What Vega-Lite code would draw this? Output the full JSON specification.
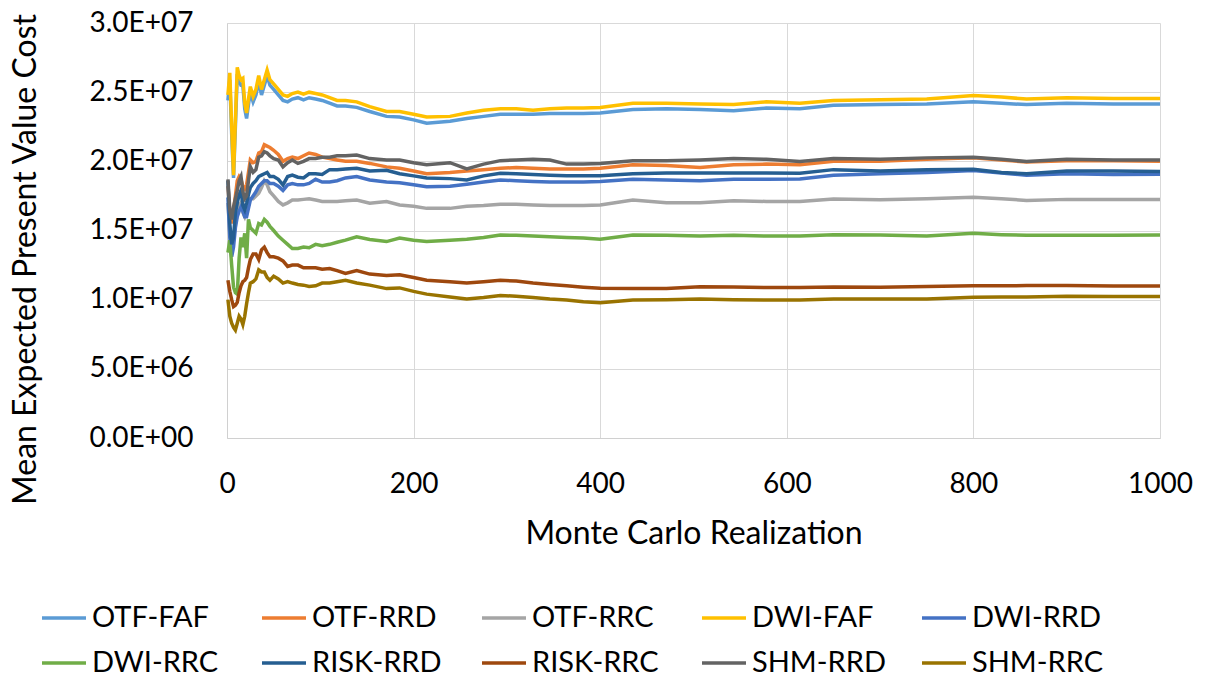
{
  "$schema": "https://vega.github.io/schema/vega-lite/v6.json",
  "width": 933,
  "height": 415,
  "autosize": "none",
  "padding": {"left": 227, "top": 23, "right": 49, "bottom": 241},
  "background": "white",
  "data": {"values": [
    {"x":1,"OTF-FAF":2.44e7,"OTF-RRD":1.82e7,"OTF-RRC":1.70e7,"DWI-FAF":2.48e7,"DWI-RRD":1.74e7,"DWI-RRC":1.34e7,"RISK-RRD":1.86e7,"RISK-RRC":1.14e7,"SHM-RRD":1.87e7,"SHM-RRC":1.00e7},
    {"x":3,"OTF-FAF":2.59e7,"OTF-RRD":1.63e7,"OTF-RRC":1.48e7,"DWI-FAF":2.64e7,"DWI-RRD":1.45e7,"DWI-RRC":1.43e7,"RISK-RRD":1.55e7,"RISK-RRC":1.06e7,"SHM-RRD":1.65e7,"SHM-RRC":8.8e6},
    {"x":5,"OTF-FAF":2.20e7,"OTF-RRD":1.55e7,"OTF-RRC":1.38e7,"DWI-FAF":2.25e7,"DWI-RRD":1.31e7,"DWI-RRC":1.25e7,"RISK-RRD":1.40e7,"RISK-RRC":1.00e7,"SHM-RRD":1.58e7,"SHM-RRC":8.3e6},
    {"x":7,"OTF-FAF":1.88e7,"OTF-RRD":1.65e7,"OTF-RRC":1.43e7,"DWI-FAF":1.90e7,"DWI-RRD":1.38e7,"DWI-RRC":1.09e7,"RISK-RRD":1.45e7,"RISK-RRC":9.5e6,"SHM-RRD":1.67e7,"SHM-RRC":8.0e6},
    {"x":9,"OTF-FAF":2.25e7,"OTF-RRD":1.75e7,"OTF-RRC":1.55e7,"DWI-FAF":2.30e7,"DWI-RRD":1.52e7,"DWI-RRC":1.05e7,"RISK-RRD":1.63e7,"RISK-RRC":9.6e6,"SHM-RRD":1.73e7,"SHM-RRC":7.8e6},
    {"x":11,"OTF-FAF":2.63e7,"OTF-RRD":1.86e7,"OTF-RRC":1.62e7,"DWI-FAF":2.68e7,"DWI-RRD":1.60e7,"DWI-RRC":1.04e7,"RISK-RRD":1.70e7,"RISK-RRC":9.8e6,"SHM-RRD":1.79e7,"SHM-RRC":8.3e6},
    {"x":13,"OTF-FAF":2.58e7,"OTF-RRD":1.89e7,"OTF-RRC":1.68e7,"DWI-FAF":2.62e7,"DWI-RRD":1.64e7,"DWI-RRC":1.30e7,"RISK-RRD":1.76e7,"RISK-RRC":1.05e7,"SHM-RRD":1.86e7,"SHM-RRC":8.8e6},
    {"x":15,"OTF-FAF":2.55e7,"OTF-RRD":1.87e7,"OTF-RRC":1.70e7,"DWI-FAF":2.59e7,"DWI-RRD":1.67e7,"DWI-RRC":1.45e7,"RISK-RRD":1.79e7,"RISK-RRC":1.10e7,"SHM-RRD":1.89e7,"SHM-RRC":8.6e6},
    {"x":17,"OTF-FAF":2.55e7,"OTF-RRD":1.82e7,"OTF-RRC":1.63e7,"DWI-FAF":2.60e7,"DWI-RRD":1.64e7,"DWI-RRC":1.38e7,"RISK-RRD":1.68e7,"RISK-RRC":1.13e7,"SHM-RRD":1.78e7,"SHM-RRC":8.2e6},
    {"x":19,"OTF-FAF":2.38e7,"OTF-RRD":1.80e7,"OTF-RRC":1.60e7,"DWI-FAF":2.42e7,"DWI-RRD":1.60e7,"DWI-RRC":1.48e7,"RISK-RRD":1.65e7,"RISK-RRC":1.14e7,"SHM-RRD":1.73e7,"SHM-RRC":8.8e6},
    {"x":21,"OTF-FAF":2.31e7,"OTF-RRD":1.83e7,"OTF-RRC":1.64e7,"DWI-FAF":2.35e7,"DWI-RRD":1.60e7,"DWI-RRC":1.30e7,"RISK-RRD":1.70e7,"RISK-RRC":1.16e7,"SHM-RRD":1.75e7,"SHM-RRC":9.7e6},
    {"x":23,"OTF-FAF":2.41e7,"OTF-RRD":1.92e7,"OTF-RRC":1.69e7,"DWI-FAF":2.45e7,"DWI-RRD":1.66e7,"DWI-RRC":1.58e7,"RISK-RRD":1.76e7,"RISK-RRC":1.23e7,"SHM-RRD":1.86e7,"SHM-RRC":1.05e7},
    {"x":25,"OTF-FAF":2.50e7,"OTF-RRD":2.01e7,"OTF-RRC":1.73e7,"DWI-FAF":2.54e7,"DWI-RRD":1.72e7,"DWI-RRC":1.52e7,"RISK-RRD":1.81e7,"RISK-RRC":1.29e7,"SHM-RRD":1.96e7,"SHM-RRC":1.12e7},
    {"x":28,"OTF-FAF":2.43e7,"OTF-RRD":1.99e7,"OTF-RRC":1.73e7,"DWI-FAF":2.47e7,"DWI-RRD":1.75e7,"DWI-RRC":1.50e7,"RISK-RRD":1.84e7,"RISK-RRC":1.33e7,"SHM-RRD":1.92e7,"SHM-RRC":1.13e7},
    {"x":31,"OTF-FAF":2.48e7,"OTF-RRD":2.00e7,"OTF-RRC":1.75e7,"DWI-FAF":2.52e7,"DWI-RRD":1.78e7,"DWI-RRC":1.48e7,"RISK-RRD":1.86e7,"RISK-RRC":1.33e7,"SHM-RRD":1.94e7,"SHM-RRC":1.15e7},
    {"x":34,"OTF-FAF":2.58e7,"OTF-RRD":2.06e7,"OTF-RRC":1.77e7,"DWI-FAF":2.62e7,"DWI-RRD":1.82e7,"DWI-RRC":1.55e7,"RISK-RRD":1.89e7,"RISK-RRC":1.29e7,"SHM-RRD":2.03e7,"SHM-RRC":1.215e7},
    {"x":37,"OTF-FAF":2.48e7,"OTF-RRD":2.07e7,"OTF-RRC":1.81e7,"DWI-FAF":2.52e7,"DWI-RRD":1.84e7,"DWI-RRC":1.54e7,"RISK-RRD":1.90e7,"RISK-RRC":1.36e7,"SHM-RRD":2.04e7,"SHM-RRC":1.20e7},
    {"x":40,"OTF-FAF":2.55e7,"OTF-RRD":2.12e7,"OTF-RRC":1.86e7,"DWI-FAF":2.59e7,"DWI-RRD":1.86e7,"DWI-RRC":1.58e7,"RISK-RRD":1.91e7,"RISK-RRC":1.38e7,"SHM-RRD":2.07e7,"SHM-RRC":1.20e7},
    {"x":43,"OTF-FAF":2.62e7,"OTF-RRD":2.11e7,"OTF-RRC":1.83e7,"DWI-FAF":2.66e7,"DWI-RRD":1.86e7,"DWI-RRC":1.56e7,"RISK-RRD":1.92e7,"RISK-RRC":1.34e7,"SHM-RRD":2.06e7,"SHM-RRC":1.16e7},
    {"x":46,"OTF-FAF":2.55e7,"OTF-RRD":2.10e7,"OTF-RRC":1.78e7,"DWI-FAF":2.59e7,"DWI-RRD":1.84e7,"DWI-RRC":1.53e7,"RISK-RRD":1.89e7,"RISK-RRC":1.31e7,"SHM-RRD":2.04e7,"SHM-RRC":1.14e7},
    {"x":50,"OTF-FAF":2.52e7,"OTF-RRD":2.08e7,"OTF-RRC":1.75e7,"DWI-FAF":2.56e7,"DWI-RRD":1.84e7,"DWI-RRC":1.50e7,"RISK-RRD":1.89e7,"RISK-RRC":1.31e7,"SHM-RRD":2.02e7,"SHM-RRC":1.17e7},
    {"x":55,"OTF-FAF":2.48e7,"OTF-RRD":2.05e7,"OTF-RRC":1.71e7,"DWI-FAF":2.52e7,"DWI-RRD":1.82e7,"DWI-RRC":1.46e7,"RISK-RRD":1.87e7,"RISK-RRC":1.30e7,"SHM-RRD":2.01e7,"SHM-RRC":1.15e7},
    {"x":60,"OTF-FAF":2.44e7,"OTF-RRD":2.00e7,"OTF-RRC":1.685e7,"DWI-FAF":2.48e7,"DWI-RRD":1.79e7,"DWI-RRC":1.43e7,"RISK-RRD":1.83e7,"RISK-RRC":1.28e7,"SHM-RRD":1.96e7,"SHM-RRC":1.12e7},
    {"x":65,"OTF-FAF":2.43e7,"OTF-RRD":2.02e7,"OTF-RRC":1.70e7,"DWI-FAF":2.47e7,"DWI-RRD":1.83e7,"DWI-RRC":1.40e7,"RISK-RRD":1.89e7,"RISK-RRC":1.24e7,"SHM-RRD":1.99e7,"SHM-RRC":1.13e7},
    {"x":70,"OTF-FAF":2.45e7,"OTF-RRD":2.03e7,"OTF-RRC":1.72e7,"DWI-FAF":2.49e7,"DWI-RRD":1.84e7,"DWI-RRC":1.37e7,"RISK-RRD":1.90e7,"RISK-RRC":1.25e7,"SHM-RRD":2.01e7,"SHM-RRC":1.12e7},
    {"x":76,"OTF-FAF":2.46e7,"OTF-RRD":2.02e7,"OTF-RRC":1.72e7,"DWI-FAF":2.50e7,"DWI-RRD":1.83e7,"DWI-RRC":1.37e7,"RISK-RRD":1.885e7,"RISK-RRC":1.25e7,"SHM-RRD":1.985e7,"SHM-RRC":1.11e7},
    {"x":82,"OTF-FAF":2.445e7,"OTF-RRD":2.04e7,"OTF-RRC":1.725e7,"DWI-FAF":2.485e7,"DWI-RRD":1.83e7,"DWI-RRC":1.38e7,"RISK-RRD":1.88e7,"RISK-RRC":1.23e7,"SHM-RRD":2.00e7,"SHM-RRC":1.105e7},
    {"x":88,"OTF-FAF":2.46e7,"OTF-RRD":2.06e7,"OTF-RRC":1.73e7,"DWI-FAF":2.50e7,"DWI-RRD":1.84e7,"DWI-RRC":1.375e7,"RISK-RRD":1.91e7,"RISK-RRC":1.23e7,"SHM-RRD":2.02e7,"SHM-RRC":1.095e7},
    {"x":95,"OTF-FAF":2.45e7,"OTF-RRD":2.05e7,"OTF-RRC":1.72e7,"DWI-FAF":2.49e7,"DWI-RRD":1.87e7,"DWI-RRC":1.40e7,"RISK-RRD":1.91e7,"RISK-RRC":1.23e7,"SHM-RRD":2.02e7,"SHM-RRC":1.10e7},
    {"x":102,"OTF-FAF":2.44e7,"OTF-RRD":2.03e7,"OTF-RRC":1.71e7,"DWI-FAF":2.48e7,"DWI-RRD":1.85e7,"DWI-RRC":1.39e7,"RISK-RRD":1.905e7,"RISK-RRC":1.22e7,"SHM-RRD":2.03e7,"SHM-RRC":1.12e7},
    {"x":110,"OTF-FAF":2.42e7,"OTF-RRD":2.02e7,"OTF-RRC":1.71e7,"DWI-FAF":2.46e7,"DWI-RRD":1.85e7,"DWI-RRC":1.40e7,"RISK-RRD":1.94e7,"RISK-RRC":1.225e7,"SHM-RRD":2.03e7,"SHM-RRC":1.12e7},
    {"x":118,"OTF-FAF":2.40e7,"OTF-RRD":2.01e7,"OTF-RRC":1.71e7,"DWI-FAF":2.44e7,"DWI-RRD":1.86e7,"DWI-RRC":1.415e7,"RISK-RRD":1.94e7,"RISK-RRC":1.21e7,"SHM-RRD":2.04e7,"SHM-RRC":1.13e7},
    {"x":127,"OTF-FAF":2.40e7,"OTF-RRD":2.00e7,"OTF-RRC":1.715e7,"DWI-FAF":2.44e7,"DWI-RRD":1.88e7,"DWI-RRC":1.43e7,"RISK-RRD":1.945e7,"RISK-RRC":1.19e7,"SHM-RRD":2.04e7,"SHM-RRC":1.14e7},
    {"x":139,"OTF-FAF":2.39e7,"OTF-RRD":2.00e7,"OTF-RRC":1.72e7,"DWI-FAF":2.43e7,"DWI-RRD":1.89e7,"DWI-RRC":1.455e7,"RISK-RRD":1.95e7,"RISK-RRC":1.21e7,"SHM-RRD":2.045e7,"SHM-RRC":1.12e7},
    {"x":153,"OTF-FAF":2.36e7,"OTF-RRD":1.985e7,"OTF-RRC":1.697e7,"DWI-FAF":2.395e7,"DWI-RRD":1.865e7,"DWI-RRC":1.435e7,"RISK-RRD":1.93e7,"RISK-RRC":1.185e7,"SHM-RRD":2.02e7,"SHM-RRC":1.105e7},
    {"x":171,"OTF-FAF":2.325e7,"OTF-RRD":1.96e7,"OTF-RRC":1.71e7,"DWI-FAF":2.36e7,"DWI-RRD":1.85e7,"DWI-RRC":1.42e7,"RISK-RRD":1.935e7,"RISK-RRC":1.175e7,"SHM-RRD":2.01e7,"SHM-RRC":1.08e7},
    {"x":185,"OTF-FAF":2.32e7,"OTF-RRD":1.95e7,"OTF-RRC":1.685e7,"DWI-FAF":2.36e7,"DWI-RRD":1.845e7,"DWI-RRC":1.445e7,"RISK-RRD":1.91e7,"RISK-RRC":1.18e7,"SHM-RRD":2.01e7,"SHM-RRC":1.085e7},
    {"x":200,"OTF-FAF":2.30e7,"OTF-RRD":1.93e7,"OTF-RRC":1.675e7,"DWI-FAF":2.34e7,"DWI-RRD":1.83e7,"DWI-RRC":1.43e7,"RISK-RRD":1.895e7,"RISK-RRC":1.16e7,"SHM-RRD":1.99e7,"SHM-RRC":1.06e7},
    {"x":214,"OTF-FAF":2.275e7,"OTF-RRD":1.91e7,"OTF-RRC":1.66e7,"DWI-FAF":2.32e7,"DWI-RRD":1.817e7,"DWI-RRC":1.42e7,"RISK-RRD":1.88e7,"RISK-RRC":1.14e7,"SHM-RRD":1.975e7,"SHM-RRC":1.04e7},
    {"x":239,"OTF-FAF":2.29e7,"OTF-RRD":1.92e7,"OTF-RRC":1.66e7,"DWI-FAF":2.325e7,"DWI-RRD":1.82e7,"DWI-RRC":1.43e7,"RISK-RRD":1.875e7,"RISK-RRC":1.13e7,"SHM-RRD":1.99e7,"SHM-RRC":1.02e7},
    {"x":257,"OTF-FAF":2.31e7,"OTF-RRD":1.93e7,"OTF-RRC":1.675e7,"DWI-FAF":2.35e7,"DWI-RRD":1.835e7,"DWI-RRC":1.437e7,"RISK-RRD":1.865e7,"RISK-RRC":1.12e7,"SHM-RRD":1.945e7,"SHM-RRC":1.005e7},
    {"x":275,"OTF-FAF":2.325e7,"OTF-RRD":1.94e7,"OTF-RRC":1.68e7,"DWI-FAF":2.37e7,"DWI-RRD":1.85e7,"DWI-RRC":1.45e7,"RISK-RRD":1.895e7,"RISK-RRC":1.13e7,"SHM-RRD":1.98e7,"SHM-RRC":1.015e7},
    {"x":293,"OTF-FAF":2.34e7,"OTF-RRD":1.95e7,"OTF-RRC":1.69e7,"DWI-FAF":2.38e7,"DWI-RRD":1.865e7,"DWI-RRC":1.468e7,"RISK-RRD":1.914e7,"RISK-RRC":1.14e7,"SHM-RRD":2.005e7,"SHM-RRC":1.03e7},
    {"x":310,"OTF-FAF":2.34e7,"OTF-RRD":1.955e7,"OTF-RRC":1.69e7,"DWI-FAF":2.38e7,"DWI-RRD":1.86e7,"DWI-RRC":1.465e7,"RISK-RRD":1.91e7,"RISK-RRC":1.135e7,"SHM-RRD":2.01e7,"SHM-RRC":1.025e7},
    {"x":328,"OTF-FAF":2.34e7,"OTF-RRD":1.95e7,"OTF-RRC":1.685e7,"DWI-FAF":2.37e7,"DWI-RRD":1.855e7,"DWI-RRC":1.46e7,"RISK-RRD":1.905e7,"RISK-RRC":1.12e7,"SHM-RRD":2.015e7,"SHM-RRC":1.015e7},
    {"x":346,"OTF-FAF":2.345e7,"OTF-RRD":1.945e7,"OTF-RRC":1.68e7,"DWI-FAF":2.38e7,"DWI-RRD":1.85e7,"DWI-RRC":1.455e7,"RISK-RRD":1.90e7,"RISK-RRC":1.11e7,"SHM-RRD":2.01e7,"SHM-RRC":1.005e7},
    {"x":364,"OTF-FAF":2.345e7,"OTF-RRD":1.945e7,"OTF-RRC":1.68e7,"DWI-FAF":2.385e7,"DWI-RRD":1.85e7,"DWI-RRC":1.45e7,"RISK-RRD":1.895e7,"RISK-RRC":1.10e7,"SHM-RRD":1.98e7,"SHM-RRC":9.98e6},
    {"x":382,"OTF-FAF":2.345e7,"OTF-RRD":1.945e7,"OTF-RRC":1.68e7,"DWI-FAF":2.385e7,"DWI-RRD":1.85e7,"DWI-RRC":1.445e7,"RISK-RRD":1.895e7,"RISK-RRC":1.09e7,"SHM-RRD":1.98e7,"SHM-RRC":9.85e6},
    {"x":400,"OTF-FAF":2.35e7,"OTF-RRD":1.95e7,"OTF-RRC":1.685e7,"DWI-FAF":2.39e7,"DWI-RRD":1.855e7,"DWI-RRC":1.437e7,"RISK-RRD":1.895e7,"RISK-RRC":1.082e7,"SHM-RRD":1.985e7,"SHM-RRC":9.78e6},
    {"x":435,"OTF-FAF":2.375e7,"OTF-RRD":1.975e7,"OTF-RRC":1.72e7,"DWI-FAF":2.42e7,"DWI-RRD":1.87e7,"DWI-RRC":1.468e7,"RISK-RRD":1.91e7,"RISK-RRC":1.08e7,"SHM-RRD":2.005e7,"SHM-RRC":9.98e6},
    {"x":471,"OTF-FAF":2.38e7,"OTF-RRD":1.97e7,"OTF-RRC":1.70e7,"DWI-FAF":2.42e7,"DWI-RRD":1.865e7,"DWI-RRC":1.465e7,"RISK-RRD":1.915e7,"RISK-RRC":1.08e7,"SHM-RRD":2.005e7,"SHM-RRC":1.00e7},
    {"x":507,"OTF-FAF":2.375e7,"OTF-RRD":1.955e7,"OTF-RRC":1.70e7,"DWI-FAF":2.415e7,"DWI-RRD":1.86e7,"DWI-RRC":1.46e7,"RISK-RRD":1.915e7,"RISK-RRC":1.094e7,"SHM-RRD":2.01e7,"SHM-RRC":1.005e7},
    {"x":543,"OTF-FAF":2.365e7,"OTF-RRD":1.975e7,"OTF-RRC":1.715e7,"DWI-FAF":2.41e7,"DWI-RRD":1.87e7,"DWI-RRC":1.465e7,"RISK-RRD":1.915e7,"RISK-RRC":1.092e7,"SHM-RRD":2.02e7,"SHM-RRC":1.00e7},
    {"x":578,"OTF-FAF":2.385e7,"OTF-RRD":1.98e7,"OTF-RRC":1.71e7,"DWI-FAF":2.43e7,"DWI-RRD":1.87e7,"DWI-RRC":1.46e7,"RISK-RRD":1.915e7,"RISK-RRC":1.088e7,"SHM-RRD":2.015e7,"SHM-RRC":9.98e6},
    {"x":614,"OTF-FAF":2.38e7,"OTF-RRD":1.975e7,"OTF-RRC":1.71e7,"DWI-FAF":2.42e7,"DWI-RRD":1.872e7,"DWI-RRC":1.461e7,"RISK-RRD":1.914e7,"RISK-RRC":1.088e7,"SHM-RRD":1.998e7,"SHM-RRC":9.98e6},
    {"x":650,"OTF-FAF":2.405e7,"OTF-RRD":2.00e7,"OTF-RRC":1.728e7,"DWI-FAF":2.44e7,"DWI-RRD":1.90e7,"DWI-RRC":1.47e7,"RISK-RRD":1.94e7,"RISK-RRC":1.092e7,"SHM-RRD":2.02e7,"SHM-RRC":1.005e7},
    {"x":700,"OTF-FAF":2.41e7,"OTF-RRD":2.00e7,"OTF-RRC":1.722e7,"DWI-FAF":2.445e7,"DWI-RRD":1.91e7,"DWI-RRC":1.468e7,"RISK-RRD":1.93e7,"RISK-RRC":1.09e7,"SHM-RRD":2.015e7,"SHM-RRC":1.005e7},
    {"x":750,"OTF-FAF":2.415e7,"OTF-RRD":2.015e7,"OTF-RRC":1.73e7,"DWI-FAF":2.45e7,"DWI-RRD":1.92e7,"DWI-RRC":1.46e7,"RISK-RRD":1.94e7,"RISK-RRC":1.095e7,"SHM-RRD":2.025e7,"SHM-RRC":1.005e7},
    {"x":800,"OTF-FAF":2.43e7,"OTF-RRD":2.025e7,"OTF-RRC":1.74e7,"DWI-FAF":2.475e7,"DWI-RRD":1.933e7,"DWI-RRC":1.48e7,"RISK-RRD":1.942e7,"RISK-RRC":1.10e7,"SHM-RRD":2.03e7,"SHM-RRC":1.017e7},
    {"x":830,"OTF-FAF":2.42e7,"OTF-RRD":2.01e7,"OTF-RRC":1.73e7,"DWI-FAF":2.465e7,"DWI-RRD":1.915e7,"DWI-RRC":1.47e7,"RISK-RRD":1.92e7,"RISK-RRC":1.10e7,"SHM-RRD":2.015e7,"SHM-RRC":1.02e7},
    {"x":857,"OTF-FAF":2.41e7,"OTF-RRD":1.995e7,"OTF-RRC":1.717e7,"DWI-FAF":2.45e7,"DWI-RRD":1.90e7,"DWI-RRC":1.465e7,"RISK-RRD":1.91e7,"RISK-RRC":1.102e7,"SHM-RRD":1.998e7,"SHM-RRC":1.02e7},
    {"x":900,"OTF-FAF":2.42e7,"OTF-RRD":2.005e7,"OTF-RRC":1.725e7,"DWI-FAF":2.46e7,"DWI-RRD":1.91e7,"DWI-RRC":1.465e7,"RISK-RRD":1.93e7,"RISK-RRC":1.102e7,"SHM-RRD":2.015e7,"SHM-RRC":1.025e7},
    {"x":950,"OTF-FAF":2.415e7,"OTF-RRD":2.005e7,"OTF-RRC":1.725e7,"DWI-FAF":2.455e7,"DWI-RRD":1.905e7,"DWI-RRC":1.465e7,"RISK-RRD":1.93e7,"RISK-RRC":1.098e7,"SHM-RRD":2.01e7,"SHM-RRC":1.022e7},
    {"x":1000,"OTF-FAF":2.415e7,"OTF-RRD":2.00e7,"OTF-RRC":1.725e7,"DWI-FAF":2.455e7,"DWI-RRD":1.907e7,"DWI-RRC":1.468e7,"RISK-RRD":1.927e7,"RISK-RRC":1.099e7,"SHM-RRD":2.01e7,"SHM-RRC":1.022e7}
  ]},
  "transform": [
    {"fold": ["OTF-FAF","OTF-RRD","OTF-RRC","DWI-FAF","DWI-RRD","DWI-RRC","RISK-RRD","RISK-RRC","SHM-RRD","SHM-RRC"], "as": ["series","cost"]}
  ],
  "mark": {"type": "line", "strokeWidth": 3.5, "interpolate": "linear"},
  "encoding": {
    "x": {
      "field": "x", "type": "quantitative",
      "scale": {"domain": [0, 1000], "nice": false, "zero": false},
      "axis": {
        "title": "Monte Carlo Realization",
        "values": [0, 200, 400, 600, 800, 1000],
        "format": "d",
        "labelPadding": 32,
        "titleX": 466.5,
        "titleY": 95,
        "titleBaseline": "middle",
        "titleAlign": "center"
      }
    },
    "y": {
      "field": "cost", "type": "quantitative",
      "scale": {"domain": [0, 30000000], "nice": false},
      "axis": {
        "title": "Mean Expected Present Value Cost",
        "values": [0, 5000000, 10000000, 15000000, 20000000, 25000000, 30000000],
        "labelExpr": "replace(upper(format(datum.value, '.1e')), 'E+', 'E+0')",
        "labelPadding": 34,
        "titleX": -202,
        "titleY": 236,
        "titleAngle": -90,
        "titleBaseline": "middle",
        "titleAlign": "center"
      }
    },
    "color": {
      "field": "series", "type": "nominal",
      "scale": {
        "domain": ["OTF-FAF","OTF-RRD","OTF-RRC","DWI-FAF","DWI-RRD","DWI-RRC","RISK-RRD","RISK-RRC","SHM-RRD","SHM-RRC"],
        "range": ["#5B9BD5","#ED7D31","#A5A5A5","#FFC000","#4472C4","#70AD47","#255E91","#9E480E","#636363","#997300"]
      },
      "legend": {
        "title": null,
        "orient": "none",
        "legendX": -187,
        "legendY": 571,
        "direction": "horizontal",
        "columns": 5,
        "gridAlign": "all",
        "columnPadding": 29,
        "rowPadding": 6,
        "symbolType": "stroke",
        "symbolSize": 1936,
        "symbolStrokeWidth": 3.5,
        "labelOffset": 4,
        "labelFontSize": 29,
        "labelFont": "Lato",
        "labelColor": "#000000",
        "labelLimit": 400,
        "padding": 0
      }
    }
  },
  "config": {
    "font": "Lato",
    "view": {"stroke": null},
    "axis": {
      "labelFont": "Lato",
      "titleFont": "Lato",
      "labelFontSize": 28,
      "titleFontSize": 32,
      "titleFontWeight": "normal",
      "labelColor": "#000000",
      "titleColor": "#000000",
      "gridColor": "#D9D9D9",
      "gridWidth": 1,
      "domainColor": "#D0D0D0",
      "domainWidth": 1,
      "ticks": false,
      "tickSize": 0,
      "labelOverlap": false,
      "labelFlush": false
    }
  }
}
